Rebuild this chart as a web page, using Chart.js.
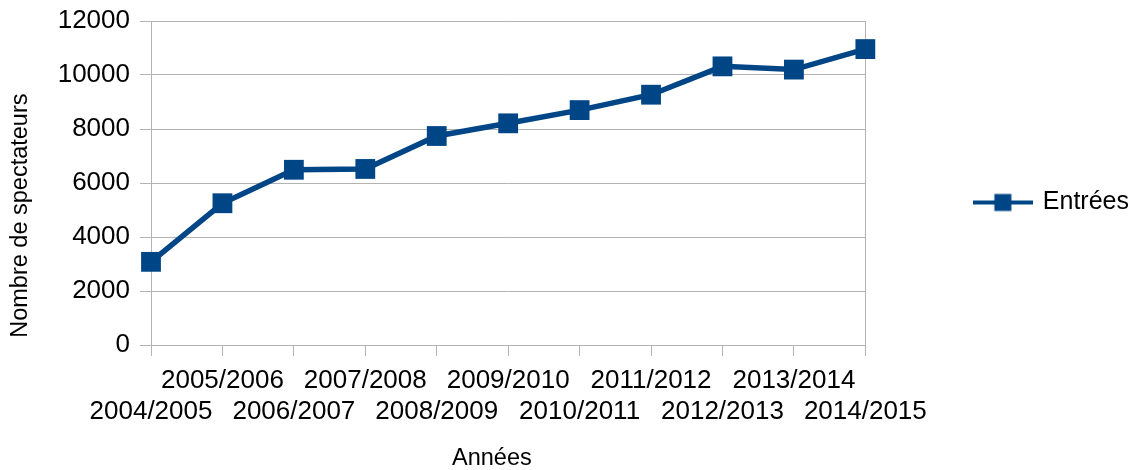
<!DOCTYPE html>
<html><head><meta charset="utf-8">
<script src="https://cdn.jsdelivr.net/npm/chart.js@4/dist/chart.umd.min.js"></script>
<style>html,body{margin:0;padding:0;background:#fff}#wrap{width:1139px;height:470px;position:relative}</style>
</head><body><div id="wrap"><canvas id="c"></canvas></div>
<script>
const categories = ['2004/2005','2005/2006','2006/2007','2007/2008','2008/2009','2009/2010','2010/2011','2011/2012','2012/2013','2013/2014','2014/2015'];
const entrees = [3080, 5250, 6490, 6520, 7740, 8210, 8700, 9270, 10320, 10200, 10960];
const yMin = 0, yMax = 12000, yStep = 2000;
const seriesName = 'Entrées';
const xTitle = 'Années';
const yTitle = 'Nombre de spectateurs';

const BLUE = '#004586', GRID = '#b3b3b3';
const FONT = "'Liberation Sans', Arial, sans-serif";
Chart.defaults.font.family = FONT;
Chart.defaults.color = '#000';

// legend icon: line with square marker
const icon = document.createElement('canvas');
icon.width = 60; icon.height = 20;
(function(){ const g = icon.getContext('2d'); g.fillStyle = BLUE;
  g.fillRect(0, 8, 60, 4); g.fillRect(21.5, 1.5, 17, 17); })();

const NB = '\u00A0';
new Chart(document.getElementById('c'), {
  type: 'line',
  data: { labels: categories, datasets: [{
    label: seriesName, data: entrees,
    borderColor: BLUE, backgroundColor: BLUE, borderWidth: 5.5, tension: 0,
    pointStyle: 'rect', pointRadius: 14, pointHoverRadius: 14, pointBorderWidth: 0,
    pointBackgroundColor: BLUE, clip: false
  }]},
  options: {
    responsive: true, maintainAspectRatio: false, animation: false,
    layout: { padding: { top: 21, left: 0, right: 0, bottom: 0 } },
    plugins: {
      tooltip: { enabled: false },
      legend: {
        position: 'right', align: 'start',
        title: { display: true, text: NB, font: { size: 10 }, padding: { top: 47, bottom: 0 } },
        labels: {
          usePointStyle: true, pointStyleWidth: 55, padding: 110,
          font: { size: 25 }, color: '#000',
          generateLabels(chart) {
            const items = Chart.defaults.plugins.legend.labels.generateLabels(chart);
            items.forEach(it => { it.pointStyle = icon; });
            return items;
          }
        }
      }
    },
    scales: {
      x: {
        grid: {
          color: c => c.index === categories.length - 1 ? GRID : 'rgba(0,0,0,0)',
          tickColor: GRID, tickLength: 11, lineWidth: 1
        },
        border: { display: true, color: GRID },
        ticks: {
          autoSkip: false, maxRotation: 0, minRotation: 0, padding: 10,
          font: { size: 26, lineHeight: 1.17 }, color: '#000',
          callback: (v, i) => i % 2 === 0 ? ['', categories[i]] : [categories[i], '']
        },
        title: { display: true, text: xTitle + NB.repeat(5), font: { size: 23.5, lineHeight: 1 }, padding: { top: 0, bottom: 0 }, color: '#000' },
        afterFit: s => { s.height = 125; }
      },
      y: {
        min: yMin, max: yMax,
        grid: { color: GRID, tickColor: GRID, tickLength: 11, lineWidth: 1 },
        border: { display: true, color: GRID },
        ticks: { stepSize: yStep, padding: 10, font: { size: 26, lineHeight: 0.8 }, color: '#000',
          callback: v => String(v) },
        title: { display: true, text: yTitle + NB.repeat(10), font: { size: 23.5, lineHeight: 1 }, padding: { top: 9, bottom: 0 }, color: '#000' },
        afterFit: s => { s.width = 151; }
      }
    }
  }
});
</script></body></html>
